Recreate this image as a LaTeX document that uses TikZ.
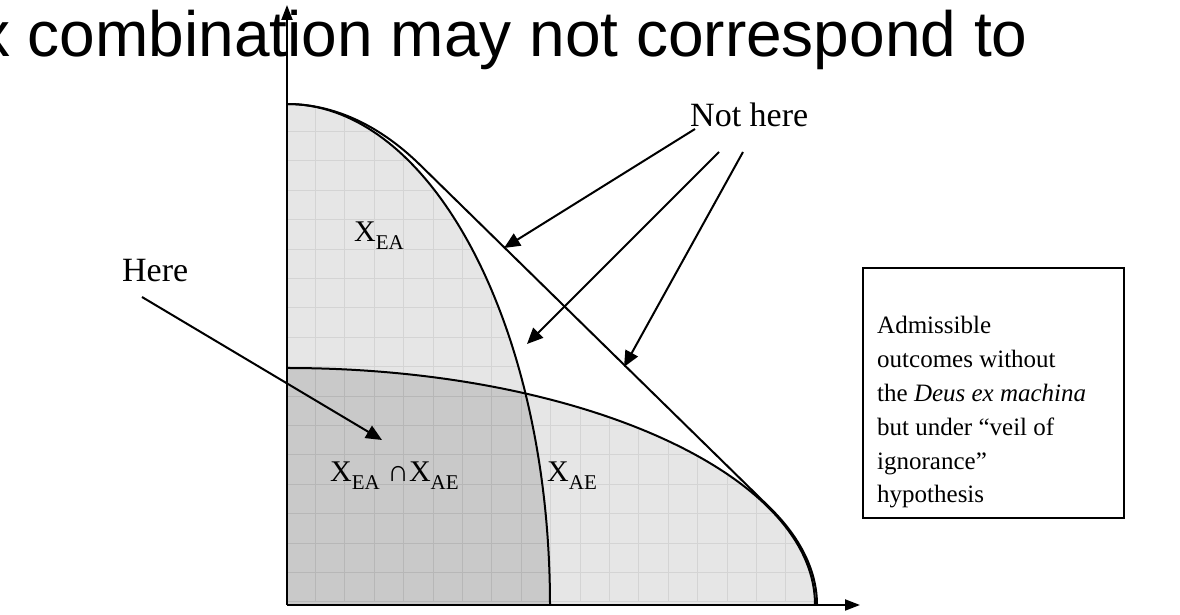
\documentclass[tikz,border=0pt]{standalone}
\usepackage{fontspec}
\setmainfont{Liberation Serif}
\newfontfamily\titlefont{Liberation Sans}
\usetikzlibrary{arrows.meta}
\definecolor{lightfill}{RGB}{230,230,230}
\definecolor{darkfill}{RGB}{201,201,201}
\definecolor{lightgrid}{RGB}{212,212,212}
\definecolor{darkgrid}{RGB}{183,183,183}
\newcommand\sbx[1]{\raisebox{-8pt}{\fontsize{21}{24}\selectfont #1}}
\begin{document}
\begin{tikzpicture}[x=1pt,y=1pt,
  curve/.style={line width=2pt, black},
  axis/.style={line width=2pt, -{Triangle[length=15pt,width=11pt]}},
  pointer/.style={line width=2pt, -{Triangle[length=16pt,width=14pt]}},
  lbl/.style={inner sep=0pt, anchor=base west, font=\fontsize{34}{40}\selectfont},
  setlbl/.style={inner sep=0pt, anchor=base west, font=\fontsize{30}{36}\selectfont},
  boxline/.style={inner sep=0pt, anchor=base west, font=\fontsize{25}{30}\selectfont},
  gridl/.style={line width=1pt}]
\useasboundingbox (-287,-10) rectangle (893,605);
% title
\node[inner sep=0pt, anchor=base west, font=\titlefont\fontsize{64}{70}\selectfont] (title) at (-309,548) {x combination may not correspond to};
% fills
\fill[lightfill] (0,0) -- (0,501) arc[start angle=90,end angle=0,x radius=263pt,y radius=501pt] -- cycle;
\fill[lightfill] (0,0) -- (0,237) arc[start angle=90,end angle=0,x radius=528pt,y radius=237pt] -- cycle;
\begin{scope}
  \clip (0,0) -- (0,501) arc[start angle=90,end angle=0,x radius=263pt,y radius=501pt] -- cycle;
  \draw[lightgrid, gridl, shift={(-1,3)}] (0,0) grid[step=29.4pt] (600,600);
\end{scope}
\begin{scope}
  \clip (0,0) -- (0,237) arc[start angle=90,end angle=0,x radius=528pt,y radius=237pt] -- cycle;
  \draw[lightgrid, gridl, shift={(-1,3)}] (0,0) grid[step=29.4pt] (600,600);
\end{scope}
\begin{scope}
  \clip (0,0) -- (0,501) arc[start angle=90,end angle=0,x radius=263pt,y radius=501pt] -- cycle;
  \fill[darkfill] (0,0) -- (0,237) arc[start angle=90,end angle=0,x radius=528pt,y radius=237pt] -- cycle;
  \clip (0,0) -- (0,237) arc[start angle=90,end angle=0,x radius=528pt,y radius=237pt] -- cycle;
  \draw[darkgrid, gridl, shift={(-1,3)}] (0,0) grid[step=29.4pt] (600,600);
\end{scope}
% boundaries
\draw[curve] (0,501) arc[start angle=90,end angle=0,x radius=263pt,y radius=501pt];
\draw[curve] (0,237) arc[start angle=90,end angle=0,x radius=528pt,y radius=237pt];
\draw[curve] (0,501) arc[start angle=90,end angle=61.42,x radius=278.5pt,y radius=501pt]
  -- (482.5,97.7) arc[start angle=24.44,end angle=0,x radius=530pt,y radius=236pt];
% axes
\coordinate (O) at (0,0);
\coordinate (ytip) at (0,600);
\coordinate (xtip) at (573,0);
\draw[axis] (O) -- (ytip);
\draw[axis] (O) -- (xtip);
% set labels
\node[setlbl] (xea) at (67,363) {X\sbx{EA}};
\node[setlbl] (xint) at (43,123) {X\sbx{EA} ∩X\sbx{AE}};
\node[setlbl] (xae) at (260,123) {X\sbx{AE}};
% pointers
\node[lbl] (here) at (-165,323) {Here};
\node[lbl] (nothere) at (403,478) {Not here};
\coordinate (hs) at (-145,308);
\coordinate (ht) at (95,165);
\coordinate (n1s) at (408,476);
\coordinate (n1t) at (217,357);
\coordinate (n2s) at (432,453);
\coordinate (n2t) at (240,261);
\coordinate (n3s) at (456,453);
\coordinate (n3t) at (337,238);
\draw[pointer] (hs) -- (ht);
\draw[pointer] (n1s) -- (n1t);
\draw[pointer] (n2s) -- (n2t);
\draw[pointer] (n3s) -- (n3t);
% box
\node[draw, line width=2pt, minimum width=261pt, minimum height=250pt, anchor=north west, inner sep=0pt] (box) at (575,338) {};
\node[boxline] (l1) at (590,271) {Admissible};
\node[boxline] (l2) at (590,237.2) {outcomes without};
\node[boxline] (l3) at (590,203.4) {the \textit{Deus ex machina}};
\node[boxline] (l4) at (590,169.6) {but under “veil of};
\node[boxline] (l5) at (590,135.8) {ignorance”};
\node[boxline] (l6) at (590,102) {hypothesis};
\end{tikzpicture}
\end{document}
